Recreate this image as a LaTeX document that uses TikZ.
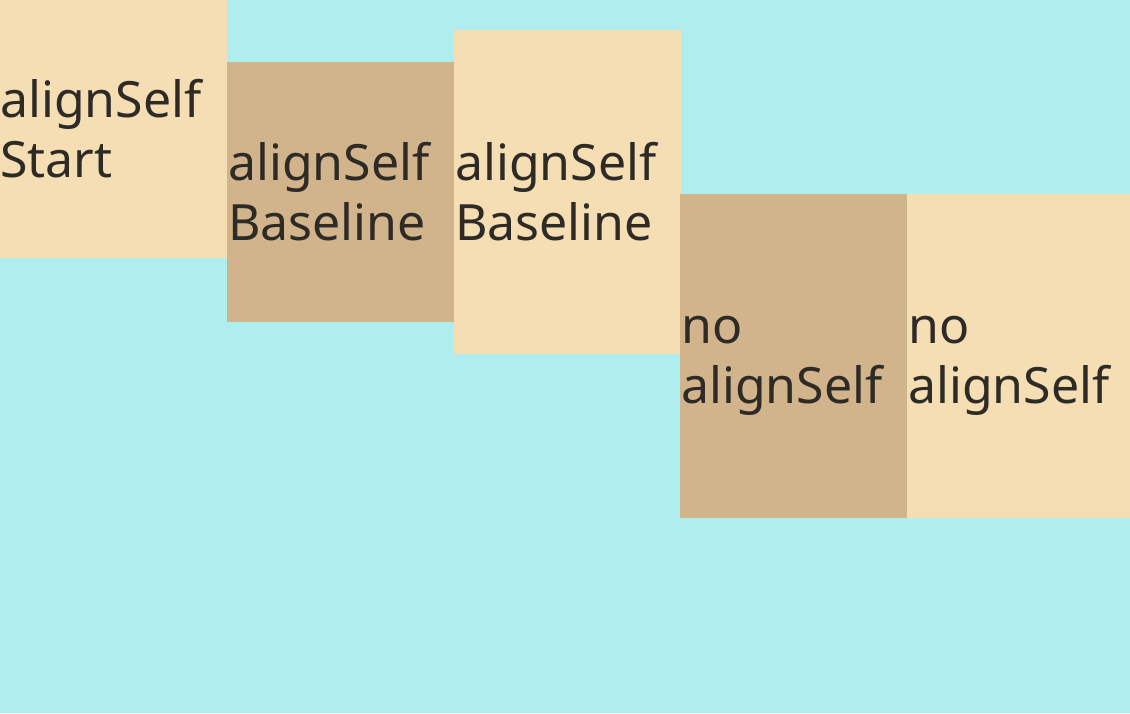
\documentclass[tikz,border=0pt]{standalone}
\usepackage{fontspec}
\setmainfont{Noto Sans}
\definecolor{paleturq}{HTML}{AFEEEE}
\definecolor{wheatbox}{HTML}{F5DEB3}
\definecolor{tanbox}{HTML}{D2B48C}
\definecolor{labeltext}{HTML}{2E2B26}
\tikzset{
  itembox/.style={anchor=north west, inner sep=0pt, outer sep=0pt, draw=none},
  itemlabel/.style={anchor=base west, inner sep=0pt, text=labeltext, font=\fontsize{50}{60}\selectfont}
}
\begin{document}
\begin{tikzpicture}[x=1pt, y=-1pt]

\fill[paleturq] (0,0) rectangle (1130,713);
\useasboundingbox (0,0) rectangle (1130,713);

% boxes
\node[itembox, fill=wheatbox, minimum width=227pt, minimum height=258pt] (start) at (0,0) {};
\node[itembox, fill=tanbox, minimum width=227pt, minimum height=260pt] (baseA) at (227,62) {};
\node[itembox, fill=wheatbox, minimum width=227pt, minimum height=324pt] (baseB) at (454,30) {};
\node[itembox, fill=tanbox, minimum width=227pt, minimum height=324pt] (noA) at (680,194) {};
\node[itembox, fill=wheatbox, minimum width=224pt, minimum height=324pt] (noB) at (907,194) {};

% labels
\node[itemlabel] (startA) at (0,117) {alignSelf};
\node[itemlabel] (startB) at (0,177) {Start};
\node[itemlabel] (baseAa) at (228,180) {alignSelf};
\node[itemlabel] (baseAb) at (228,240) {Baseline};
\node[itemlabel] (baseBa) at (455,180) {alignSelf};
\node[itemlabel] (baseBb) at (455,240) {Baseline};
\node[itemlabel] (noAa) at (681,343) {no};
\node[itemlabel] (noAb) at (681,403) {alignSelf};
\node[itemlabel] (noBa) at (908,343) {no};
\node[itemlabel] (noBb) at (908,403) {alignSelf};

\end{tikzpicture}
\end{document}
